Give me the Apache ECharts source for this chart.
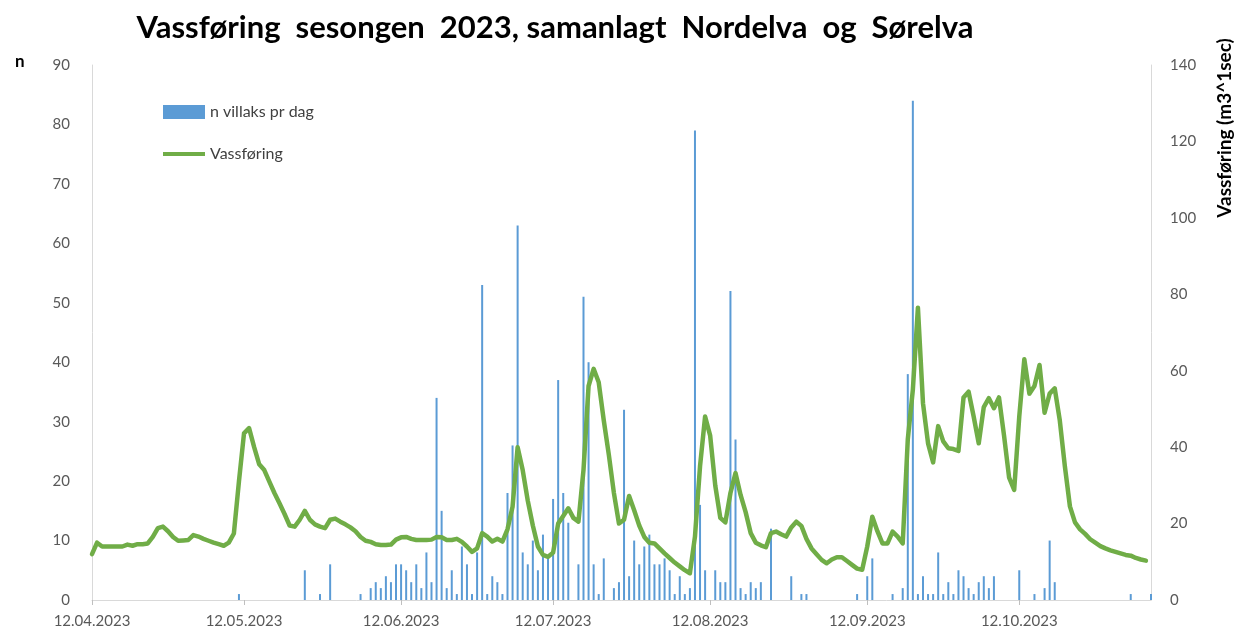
<!DOCTYPE html>
<html>
<head>
<meta charset="utf-8">
<script src="https://cdn.jsdelivr.net/npm/echarts@6/dist/echarts.min.js"></script>
<style>
  html, body { margin: 0; padding: 0; background: #fff; }
  #chart { width: 1238px; height: 631px; }
</style>
</head>
<body>
<div id="chart"></div>
<script>
// dagar frå 12.04.2023, ein verdi per dag
var startDate = new Date(2023, 3, 12);
var dayCount = 210;

// datoar som står som etikett på x-aksen
var tickLabels = ['12.04.2023', '12.05.2023', '12.06.2023', '12.07.2023',
  '12.08.2023', '12.09.2023', '12.10.2023'];

// n villaks pr dag (venstre akse)
var laks = [
  0,0,0,0,0,0,0,0,0,0,
  0,0,0,0,0,0,0,0,0,0,
  0,0,0,0,0,0,0,0,0,1,
  0,0,0,0,0,0,0,0,0,0,
  0,0,5,0,0,1,0,6,0,0,
  0,0,0,1,0,2,3,2,4,3,
  6,6,5,3,6,2,8,3,34,15,
  2,5,1,9,6,1,8,53,1,4,
  3,1,18,26,63,8,6,10,5,11,
  7,17,37,18,13,0,6,51,40,6,
  1,7,0,2,3,32,4,10,6,9,
  11,6,6,7,5,1,4,1,2,79,
  16,5,0,5,3,3,52,27,2,1,
  3,2,3,0,12,0,0,0,4,0,
  1,1,0,0,0,0,0,0,0,0,
  0,1,0,4,7,0,0,0,1,0,
  2,38,84,1,4,1,1,8,1,3,
  1,5,4,2,1,3,4,2,4,0,
  0,0,0,5,0,0,1,0,2,10,
  3,0,0,0,0,0,0,0,0,0,
  0,0,0,0,0,1,0,0,0,1
];

// vassføring m3/s (høgre akse)
var vassforing = [
  12,15,14,14,14,14,14,14.5,14.2,14.6,
  14.6,14.8,16.5,18.8,19.2,18,16.5,15.5,15.6,15.7,
  17,16.6,16,15.5,15,14.6,14.2,15,17.4,31,
  43.6,45,40,35.5,34,31,28,25.3,22.5,19.5,
  19.2,21,23.3,21,19.8,19.2,18.8,21,21.3,20.5,
  19.8,19,18,16.5,15.5,15.2,14.6,14.4,14.4,14.5,
  15.8,16.4,16.5,16,15.7,15.7,15.7,15.8,16.5,16.4,
  15.7,15.7,16,15.2,14,12.6,13.5,17.5,16.6,15.3,
  16,15.3,18.5,24.4,40,34,26,19.5,14,11.8,
  11.3,12.4,20,22,24,21.5,20.5,34,56,60.5,
  57,47,38,28,20,21,27.2,23.5,19.5,16.5,
  15,14.8,13.5,12.2,11,9.8,8.8,7.8,7,16.6,
  35,48,43,30,21.5,20.3,28,33.2,27.5,23,
  17.5,15,14.3,13.8,17.5,17.9,17.2,16.6,19,20.5,
  19.4,16,13.5,12,10.5,9.6,10.6,11.2,11.2,10.2,
  9.2,8.2,7.9,14,21.8,18,14.8,14.8,17.9,16.6,
  14.8,42,55,76.5,51.5,41,36,45.5,41.5,39.7,
  39.5,39,53,54.5,48,41,50.5,52.8,50.2,53,
  43,32,28.8,48,63,54,56,61.5,49,54,
  55.4,47,35,24.5,20.3,18.5,17.3,15.9,15,14.1,
  13.5,13,12.6,12.2,11.8,11.6,11,10.6,10.3,null
];

var pad = function(n){ return (n < 10 ? '0' : '') + n; };
var dates = [];
for (var i = 0; i < dayCount; i++) {
  var dt = new Date(startDate.getFullYear(), startDate.getMonth(), startDate.getDate() + i);
  dates.push(pad(dt.getDate()) + '.' + pad(dt.getMonth() + 1) + '.' + dt.getFullYear());
}

var isTick = function(idx, val){ return tickLabels.indexOf(val) >= 0; };
var font = 'Lato, "Open Sans", sans-serif';
// tynn strek som legend-ikon for linja, med usynlege punkt for å halde høgda
var lineIcon = 'path://M0,0L0.01,0L0,0ZM0,5H42V9H0ZM0,14L0.01,14L0,14Z';

var chart = echarts.init(document.getElementById('chart'));
chart.setOption({
  animation: false,
  textStyle: { fontFamily: font },
  grid: { left: 92, right: 87, top: 65, bottom: 31, containLabel: false },
  legend: {
    orient: 'vertical',
    left: 163,
    top: 104,
    padding: 0,
    itemWidth: 42,
    itemHeight: 14,
    itemGap: 26,
    selectedMode: false,
    textStyle: { fontSize: 16, color: '#404040', fontFamily: font },
    data: [
      { name: 'n villaks pr dag', icon: 'rect' },
      { name: 'Vassføring', icon: lineIcon, itemStyle: { color: '#70ad47' } }
    ]
  },
  graphic: [
    {
      type: 'text', x: 555, y: 28,
      style: { text: 'Vassføring  sesongen  2023, samanlagt  Nordelva  og  Sørelva',
        font: 'bold 31px ' + font, fill: '#000', align: 'center', verticalAlign: 'middle' }
    },
    {
      type: 'text', x: 15, y: 53,
      style: { text: 'n', font: 'bold 17px ' + font, fill: '#000' }
    },
    {
      type: 'text', x: 1225, y: 128, rotation: Math.PI / 2,
      style: { text: 'Vassføring (m3^1sec)', font: 'bold 19px ' + font, fill: '#000',
        align: 'center', verticalAlign: 'middle' }
    }
  ],
  xAxis: {
    type: 'category',
    data: dates,
    boundaryGap: false,
    axisLine: { lineStyle: { color: '#d9d9d9' } },
    axisTick: { show: true, interval: isTick, length: 5, lineStyle: { color: '#bfbfbf' } },
    axisLabel: { interval: isTick, color: '#595959', fontSize: 15, margin: 14 },
    splitLine: { show: false }
  },
  yAxis: [
    {
      type: 'value', min: 0, max: 90, interval: 10,
      axisLine: { show: true, lineStyle: { color: '#d9d9d9' } },
      axisTick: { show: false },
      splitLine: { show: false },
      axisLabel: { color: '#595959', fontSize: 15, margin: 22 }
    },
    {
      type: 'value', min: 0, max: 140, interval: 20, position: 'right',
      axisLine: { show: true, lineStyle: { color: '#d9d9d9' } },
      axisTick: { show: false },
      splitLine: { show: false },
      axisLabel: { color: '#595959', fontSize: 15, margin: 19 }
    }
  ],
  series: [
    {
      name: 'n villaks pr dag',
      type: 'bar',
      yAxisIndex: 0,
      barWidth: 2,
      itemStyle: { color: '#5b9bd5' },
      data: laks
    },
    {
      name: 'Vassføring',
      type: 'line',
      yAxisIndex: 1,
      symbol: 'none',
      lineStyle: { color: '#70ad47', width: 4.5, join: 'round', cap: 'round' },
      itemStyle: { color: '#70ad47' },
      data: vassforing
    }
  ]
});
</script>
</body>
</html>
